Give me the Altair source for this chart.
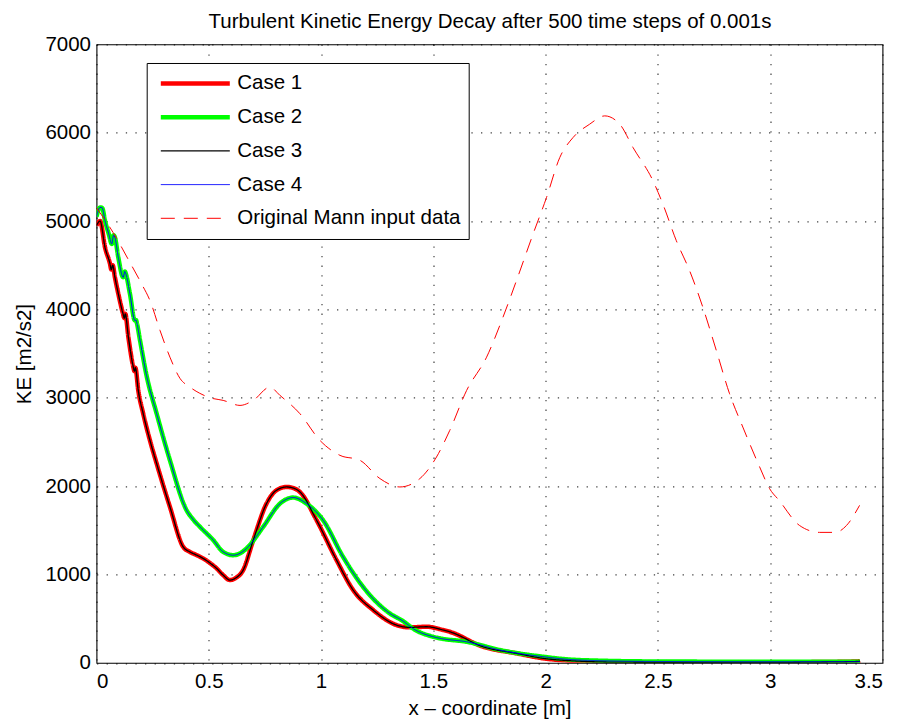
import altair as alt
import pandas as pd

FONT = "Liberation Sans"

chart_title = "Turbulent Kinetic Energy Decay after 500 time steps of 0.001s"
series_names = ["Case 1", "Case 2", "Case 3", "Case 4", "Original Mann input data"]
series_colors = ["#ff0000", "#00ff00", "#000000", "#0000ff", "#ff0000"]
series_widths = [4.5, 4.5, 1.3, 1.0, 1.0]
series_dashes = [[1, 0], [1, 0], [1, 0], [1, 0], [14, 9]]

case1_x = [0.0, 0.016, 0.038, 0.06, 0.066, 0.072, 0.082, 0.097, 0.118, 0.124, 0.128, 0.142, 0.164,
           0.169, 0.173, 0.186, 0.208, 0.238, 0.268, 0.327, 0.386, 0.416, 0.445, 0.475, 0.505, 0.535,
           0.565, 0.594, 0.62, 0.653, 0.698, 0.757, 0.80, 0.846, 0.88, 0.906, 0.98, 1.069, 1.143,
           1.232, 1.336, 1.395, 1.47, 1.543, 1.573, 1.721, 1.87, 1.988, 2.137, 2.3, 2.6, 3.0, 3.2, 3.39, 3.4]
case1_y = [4950, 5000, 4700, 4517, 4450, 4500, 4363, 4178, 3952, 3900, 3950, 3685, 3346,
           3300, 3340, 3082, 2819, 2517, 2254, 1764, 1312, 1255, 1220, 1181, 1130, 1068,
           990, 936, 960, 1049, 1388, 1802, 1950, 1990, 1975, 1933, 1614, 1162, 823,
           597, 427, 401, 408, 371, 351, 182, 107, 51, 20, 8, 5, 5, 8, 15, 20]

case2_x = [0.0, 0.016, 0.025, 0.038, 0.055, 0.068, 0.076, 0.082, 0.097, 0.119, 0.126, 0.131, 0.149,
           0.171, 0.176, 0.179, 0.194, 0.223, 0.268, 0.327, 0.401, 0.431, 0.461, 0.52, 0.564, 0.609,
           0.64, 0.668, 0.742, 0.817, 0.876, 0.935, 1.009, 1.098, 1.187, 1.306, 1.36, 1.42, 1.499,
           1.529, 1.648, 1.796, 1.988, 2.093, 2.241, 2.5, 3.0, 3.4]
case2_y = [5050, 5154, 5150, 5003, 4850, 4740, 4840, 4815, 4589, 4363, 4430, 4401, 4175,
           3873, 3880, 3854, 3647, 3250, 2819, 2292, 1727, 1620, 1538, 1388, 1255, 1218,
           1240, 1294, 1538, 1802, 1870, 1802, 1614, 1199, 860, 559, 480, 371, 295,
           277, 238, 145, 69, 40, 24, 15, 12, 12]

case3_x = [0.0, 0.016, 0.038, 0.06, 0.066, 0.072, 0.082, 0.097, 0.118, 0.124, 0.128, 0.142, 0.164,
           0.169, 0.173, 0.186, 0.208, 0.238, 0.268, 0.327, 0.386, 0.416, 0.445, 0.475, 0.505, 0.535,
           0.565, 0.594, 0.62, 0.653, 0.698, 0.757, 0.80, 0.846, 0.88, 0.906, 0.98, 1.069, 1.143,
           1.232, 1.336, 1.395, 1.47, 1.543, 1.573, 1.721, 1.87, 1.988, 2.137, 2.3, 2.6, 3.0, 3.2, 3.39, 3.4]
case3_y = [4950, 5000, 4700, 4517, 4450, 4500, 4363, 4178, 3952, 3900, 3950, 3685, 3346,
           3300, 3340, 3082, 2819, 2517, 2254, 1764, 1312, 1255, 1220, 1181, 1130, 1068,
           990, 936, 960, 1049, 1388, 1802, 1950, 1990, 1975, 1933, 1614, 1162, 823,
           597, 427, 401, 408, 371, 351, 182, 107, 51, 20, 8, 5, 5, 8, 15, 20]

case4_x = [0.0, 0.016, 0.025, 0.038, 0.055, 0.068, 0.076, 0.082, 0.097, 0.119, 0.126, 0.131, 0.149,
           0.171, 0.176, 0.179, 0.194, 0.223, 0.268, 0.327, 0.401, 0.431, 0.461, 0.52, 0.564, 0.609,
           0.64, 0.668, 0.742, 0.817, 0.876, 0.935, 1.009, 1.098, 1.187, 1.306, 1.36, 1.42, 1.499,
           1.529, 1.648, 1.796, 1.988, 2.093, 2.241, 2.5, 3.0, 3.4]
case4_y = [5050, 5154, 5150, 5003, 4850, 4740, 4840, 4815, 4589, 4363, 4430, 4401, 4175,
           3873, 3880, 3854, 3647, 3250, 2819, 2292, 1727, 1620, 1538, 1388, 1255, 1218,
           1240, 1294, 1538, 1802, 1870, 1802, 1614, 1199, 860, 559, 480, 371, 295,
           277, 238, 145, 69, 40, 24, 15, 12, 12]

mann_x = [0.0, 0.074, 0.149, 0.201, 0.238, 0.283, 0.327, 0.372, 0.416, 0.46, 0.505, 0.564, 0.639,
          0.698, 0.772, 0.817, 0.906, 0.995, 1.084, 1.173, 1.262, 1.351, 1.44, 1.514, 1.573, 1.648,
          1.737, 1.81, 1.87, 1.944, 2.004, 2.063, 2.122, 2.196, 2.263, 2.33, 2.389, 2.478, 2.522,
          2.582, 2.641, 2.7, 2.76, 2.819, 2.878, 2.953, 2.997, 3.04, 3.13, 3.22, 3.29, 3.34, 3.398]
mann_y = [5150, 4870, 4530, 4288, 4100, 3760, 3459, 3218, 3120, 3050, 3000, 2970, 2913,
          2970, 3120, 3026, 2819, 2517, 2348, 2292, 2085, 1990, 2085, 2329, 2630, 3082,
          3459, 3911, 4325, 4853, 5267, 5719, 5945, 6096, 6190, 6096, 5832, 5455, 5192,
          4777, 4438, 4024, 3535, 3045, 2668, 2216, 1972, 1837, 1555, 1476, 1476, 1555, 1782]

x_ticks = [0, 0.5, 1, 1.5, 2, 2.5, 3, 3.5]
y_ticks = [0, 1000, 2000, 3000, 4000, 5000, 6000, 7000]

rows = []
for name, xs, ys in zip(series_names,
                        [case1_x, case2_x, case3_x, case4_x, mann_x],
                        [case1_y, case2_y, case3_y, case4_y, mann_y]):
    for i, (xv, yv) in enumerate(zip(xs, ys)):
        rows.append({"x": xv, "ke": yv, "series": name, "idx": i})
df = pd.DataFrame(rows)

W = 786
H = 618.5

x_scale = alt.Scale(domain=[0, 3.5], nice=False, zero=False)
y_scale = alt.Scale(domain=[0, 7000], nice=False)


def leg():
    return alt.Legend(orient="none", legendX=50.2, legendY=18.7, title=None)


def y_axis():
    return alt.Axis(values=y_ticks, format="d", title="KE [m2/s2]",
                    labelPadding=6, titleX=-66, titleY=H / 2, titleAngle=-90,
                    titleBaseline="alphabetic", titleAlign="center")


style_enc = dict(
    color=alt.Color("series:N", legend=leg(),
                    scale=alt.Scale(domain=series_names, range=series_colors)),
    strokeWidth=alt.StrokeWidth("series:N", legend=leg(),
                                scale=alt.Scale(type="ordinal", domain=series_names, range=series_widths)),
    strokeDash=alt.StrokeDash("series:N", legend=leg(),
                              scale=alt.Scale(domain=series_names, range=series_dashes)),
    order=alt.Order("idx:Q"),
)

base = alt.Chart(df)

cases = base.transform_filter(
    alt.datum.series != series_names[4]
).mark_line(clip=True, interpolate="monotone").encode(
    x=alt.X("x:Q", scale=x_scale,
            axis=alt.Axis(values=x_ticks, format="~g", title="x \u2013 coordinate [m]",
                          labelPadding=9, titleX=W / 2, titleY=51.3,
                          titleBaseline="alphabetic", titleAlign="center")),
    y=alt.Y("ke:Q", scale=y_scale, axis=y_axis()),
    **style_enc,
)

mann = base.transform_filter(
    alt.datum.series == series_names[4]
).mark_line(clip=True, interpolate="monotone").encode(
    x=alt.X("x:Q", scale=x_scale,
            axis=alt.Axis(orient="top", values=x_ticks, labels=False, grid=False,
                          title=chart_title, titleX=W / 2, titleY=-17,
                          titleBaseline="alphabetic", titleAlign="center")),
    y=alt.Y("ke:Q", scale=y_scale, axis=y_axis()),
    **style_enc,
)

chart = alt.layer(cases, mann).resolve_axis(x="independent", y="shared").properties(
    width=W,
    height=H,
    background="white",
    autosize=alt.AutoSizeParams(type="none"),
    padding={"left": 88.5, "top": 36.3, "right": 10, "bottom": 58},
).configure_view(
    stroke="black", strokeWidth=1.1
).configure_axis(
    labelFont=FONT, labelFontSize=20.5, labelColor="black",
    titleFont=FONT, titleFontSize=20.5, titleColor="black", titleFontWeight="normal",
    domain=False, ticks=False, tickSize=0,
    grid=True, gridColor="black", gridOpacity=0.75, gridWidth=1.2, gridDash=[1.3, 8.3],
).configure_legend(
    symbolType="stroke", symbolSize=4761, clipHeight=25, rowPadding=8.7,
    padding=8, symbolOffset=3.6, labelOffset=5,
    labelFont=FONT, labelFontSize=20.5, labelColor="black", labelLimit=400,
    strokeColor="black", fillColor="white", cornerRadius=0,
)

chart.save("out.html", embed_options={"renderer": "svg", "actions": False})
